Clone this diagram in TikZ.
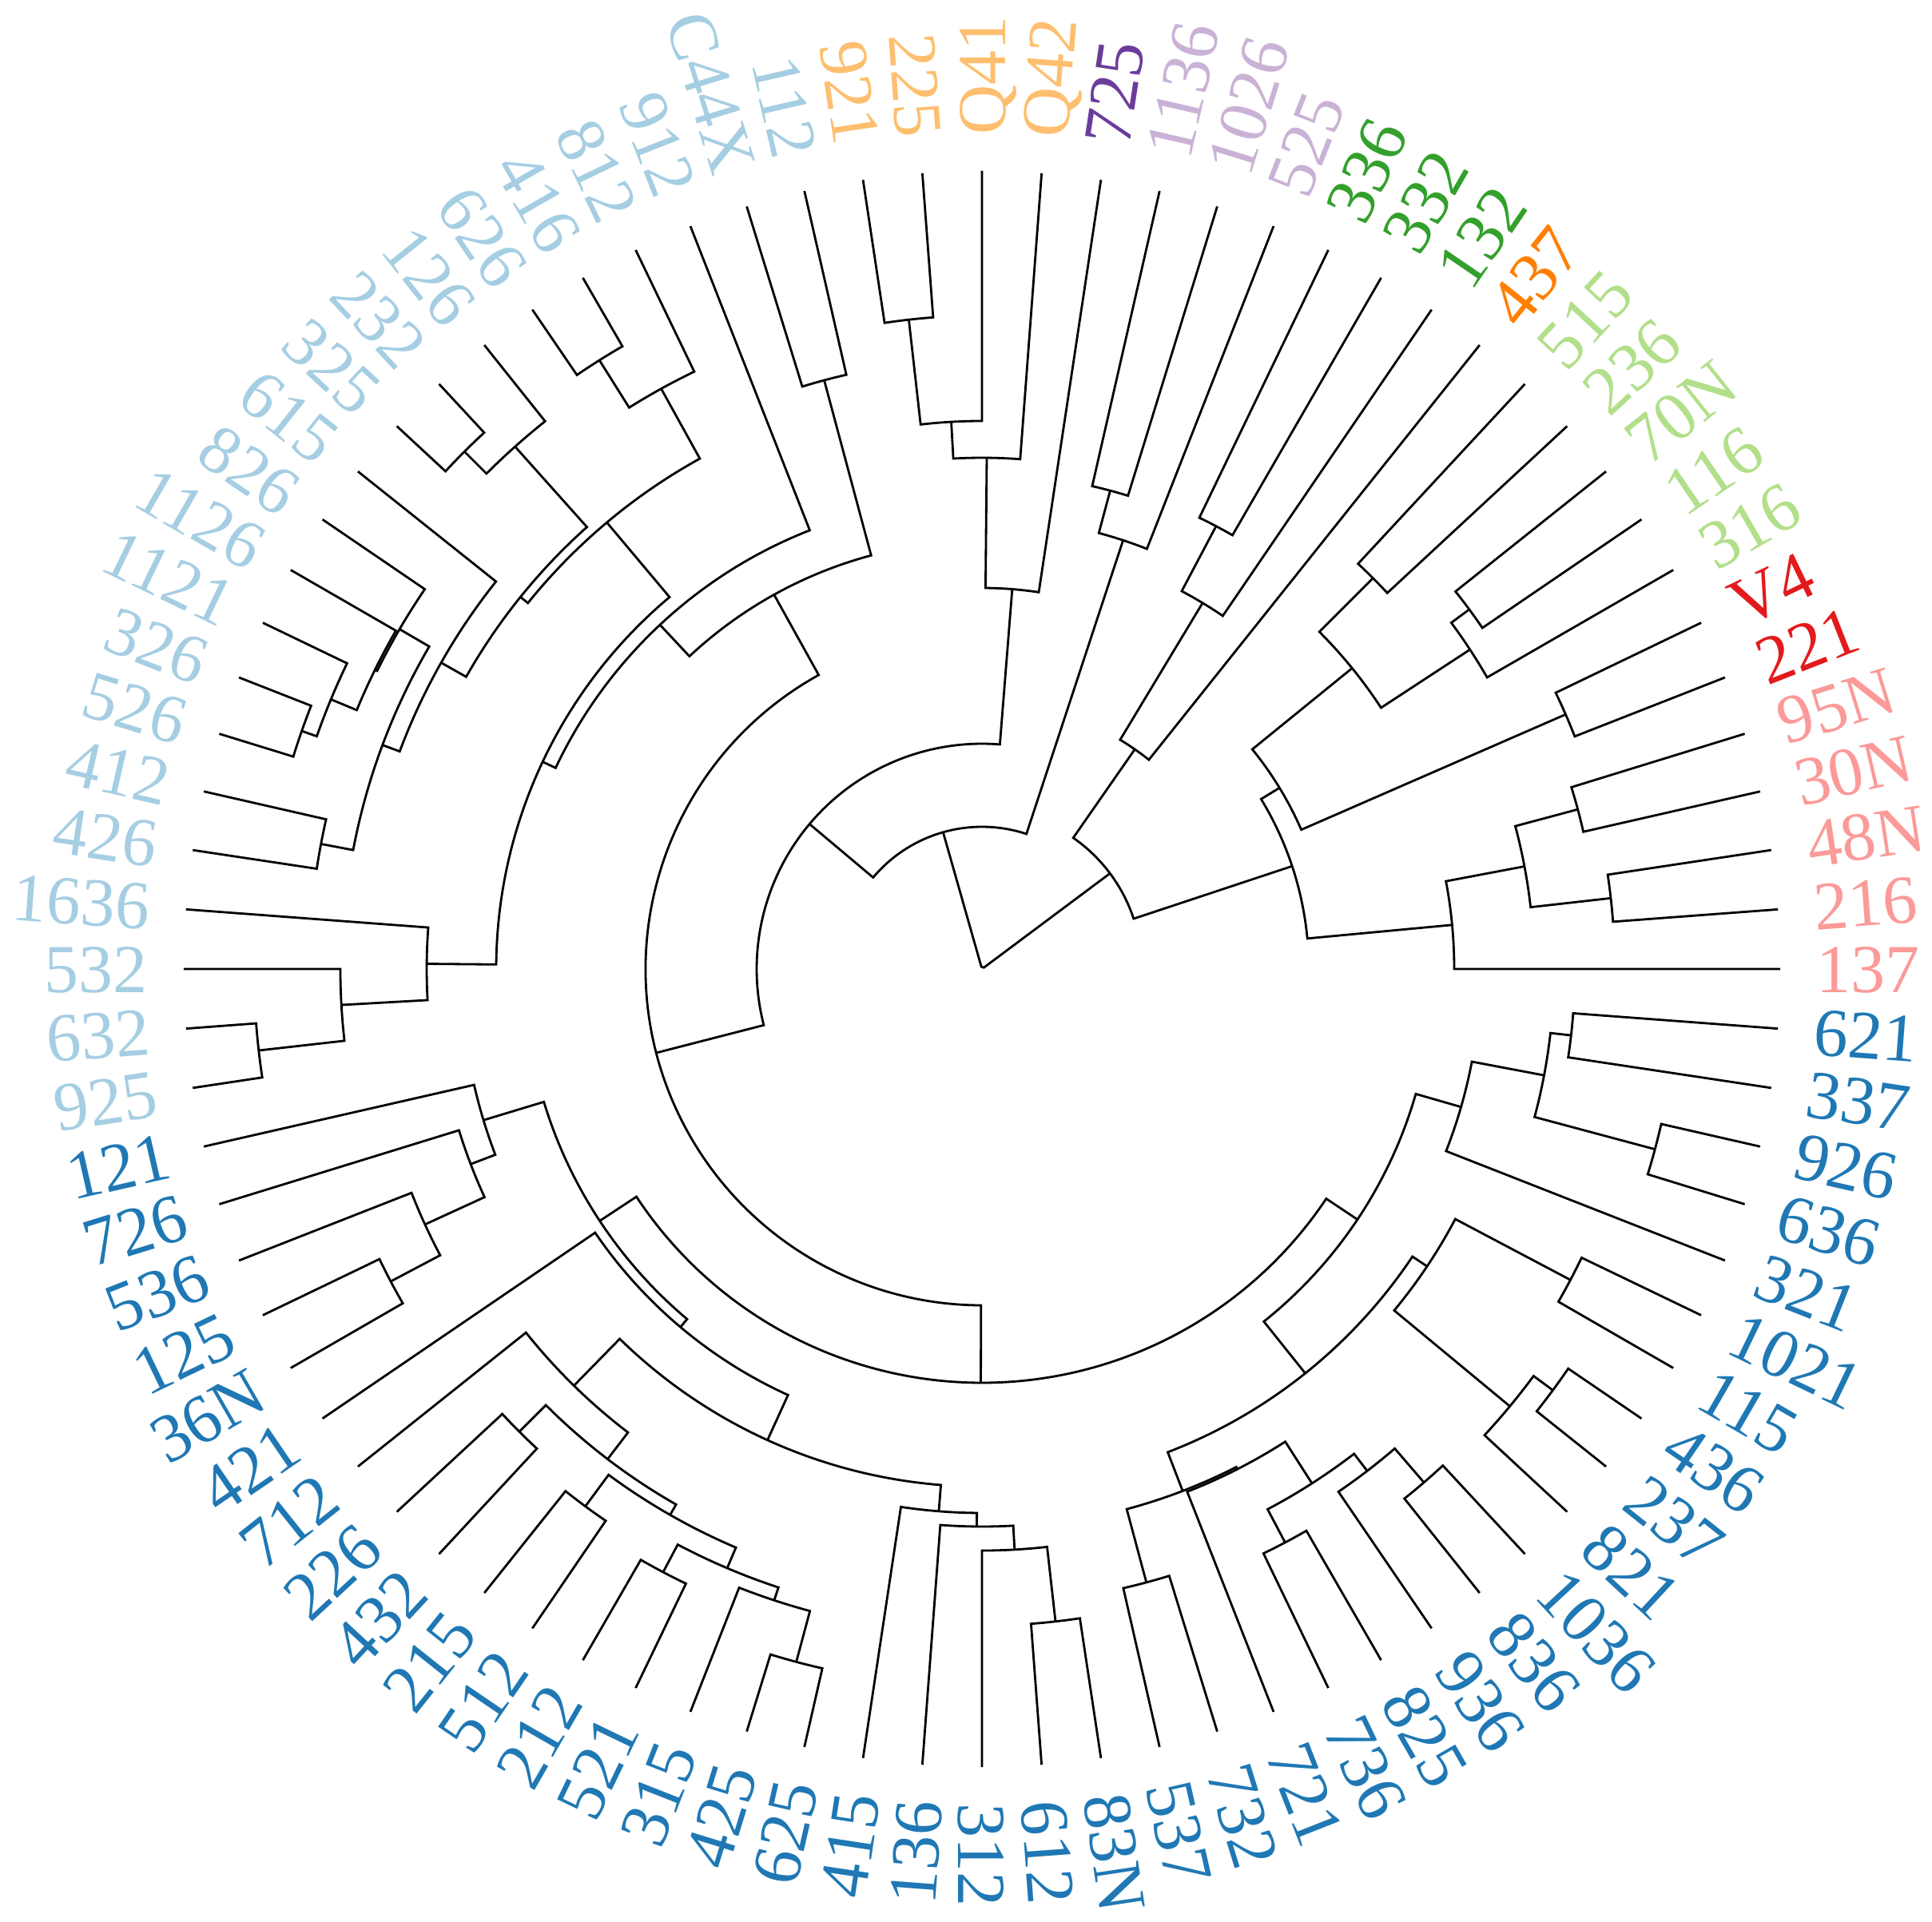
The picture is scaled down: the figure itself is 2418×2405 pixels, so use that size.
\documentclass[tikz,border=0pt]{standalone}
\usepackage{fontspec}
\setmainfont{Liberation Serif}
\usepackage{tikz}
\definecolor{pinkleaf}{RGB}{251, 154, 153}
\definecolor{redleaf}{RGB}{227, 26, 28}
\definecolor{lgreenleaf}{RGB}{178, 223, 138}
\definecolor{greenleaf}{RGB}{51, 160, 44}
\definecolor{orangeleaf}{RGB}{255, 127, 0}
\definecolor{lorangeleaf}{RGB}{253, 191, 111}
\definecolor{lpurpleleaf}{RGB}{202, 178, 214}
\definecolor{purpleleaf}{RGB}{106, 61, 154}
\definecolor{lblueleaf}{RGB}{166, 206, 227}
\definecolor{blueleaf}{RGB}{31, 120, 180}

\tikzset{
  branch/.style={draw=black, line width=0.8pt},
  leaftext/.style={font=\fontsize{24.5pt}{28pt}\selectfont, inner sep=0pt, text height=16.6pt, text depth=0pt}
}

% leaf: tip at radius 999, label turned along the radius
\newcommand{\leaf}[3]{%
  \pgfmathsetmacro{\leafang}{#2*30/7}%
  \expandafter\xdef\csname ang@s#1\endcsname{\leafang}%
  \coordinate (s#1) at (\leafang:999);
  \ifnum#2<22 \node[leaftext, text=#3, anchor=west, rotate=\leafang] (t#1) at (\leafang:1044) {#1};
  \else\ifnum#2>62 \node[leaftext, text=#3, anchor=west, rotate=\leafang] (t#1) at (\leafang:1044) {#1};
  \else\pgfmathsetmacro{\flipang}{\leafang-180}%
    \node[leaftext, text=#3, anchor=east, rotate=\flipang] (t#1) at (\leafang:1044) {#1};
  \fi\fi
}

% clade: name, radius, two children (arc between them, stems out to them)
\newcommand{\clade}[4]{%
  \edef\angA{\csname ang@#3\endcsname}%
  \edef\angB{\csname ang@#4\endcsname}%
  \pgfmathsetmacro{\angM}{(\angA+\angB)/2}%
  \expandafter\xdef\csname ang@#1\endcsname{\angM}%
  \draw[branch] (#3) -- (\angA:#2) arc[start angle=\angA, end angle=\angB, radius=#2] -- (#4);
  \coordinate (#1) at (\angM:#2);
}

\begin{document}
\begin{tikzpicture}[x=0.1mm, y=0.1mm]
  \useasboundingbox (-1229,-1192) rectangle (1189,1213);

  % Leaves, counter-clockwise from 137
  \foreach \lab/\col [count=\i from 0] in {
    137/pinkleaf, 216/pinkleaf, 48N/pinkleaf, 30N/pinkleaf, 95N/pinkleaf,
    221/redleaf, V4/redleaf,
    316/lgreenleaf, 116/lgreenleaf, 70N/lgreenleaf, 236/lgreenleaf, 515/lgreenleaf,
    437/orangeleaf,
    132/greenleaf, 332/greenleaf, 336/greenleaf,
    525/lpurpleleaf, 1026/lpurpleleaf, 1136/lpurpleleaf,
    725/purpleleaf,
    Q42/lorangeleaf, Q41/lorangeleaf, 225/lorangeleaf, 921/lorangeleaf,
    112/lblueleaf, C44X/lblueleaf, 912/lblueleaf, 812/lblueleaf, 416/lblueleaf,
    626/lblueleaf, 126/lblueleaf, 232/lblueleaf, 325/lblueleaf, 615/lblueleaf,
    826/lblueleaf, 1126/lblueleaf, 1121/lblueleaf, 326/lblueleaf, 526/lblueleaf,
    412/lblueleaf, 426/lblueleaf, 1636/lblueleaf, 532/lblueleaf, 632/lblueleaf,
    925/lblueleaf,
    121/blueleaf, 726/blueleaf, 536/blueleaf, 125/blueleaf, 36N/blueleaf,
    421/blueleaf, 712/blueleaf, 226/blueleaf, 432/blueleaf, 215/blueleaf,
    512/blueleaf, 212/blueleaf, 521/blueleaf, 315/blueleaf, 425/blueleaf,
    625/blueleaf, 415/blueleaf, 136/blueleaf, 312/blueleaf, 612/blueleaf,
    83N/blueleaf, 537/blueleaf, 732/blueleaf, 721/blueleaf, 736/blueleaf,
    825/blueleaf, 936/blueleaf, 836/blueleaf, 1036/blueleaf, 821/blueleaf,
    237/blueleaf, 436/blueleaf, 115/blueleaf, 1021/blueleaf, 321/blueleaf,
    636/blueleaf, 926/blueleaf, 337/blueleaf, 621/blueleaf}
    {\leaf{\lab}{\i}{\col}}

  % Right: pink, red, green groups
  \clade{a12}{792}{s216}{s48N}
  \clade{a34}{772}{s30N}{s95N}
  \clade{a14}{691}{a12}{a34}
  \clade{a04}{591}{s137}{a14}
  \clade{rv}{797}{s221}{sV4}
  \clade{g70}{758}{s116}{s70N}
  \clade{g316}{730}{s316}{g70}
  \clade{g515}{692}{s236}{s515}
  \clade{g2}{597}{g316}{g515}
  \clade{e}{436}{rv}{g2}
  \clade{b1}{409}{a04}{e}
  \clade{d}{627}{s332}{s336}
  \clade{c}{535}{s132}{d}
  \clade{b2}{335}{s437}{c}
  \clade{b}{200}{b1}{b2}

  % Top: purple and orange groups
  \clade{u1}{620}{s1026}{s1136}
  \clade{u2}{565}{s525}{u1}
  \clade{q1}{818}{s225}{s921}
  \clade{q2}{686}{sQ41}{q1}
  \clade{q3}{640}{sQ42}{q2}
  \clade{t1}{477}{s725}{q3}

  % Upper left: light blue group
  \clade{x112}{763}{s112}{sC44X}
  \clade{n416}{900}{s416}{s626}
  \clade{n830}{830}{s812}{n416}
  \clade{n232}{916}{s232}{s325}
  \clade{n877}{877}{s126}{n232}
  \clade{z326}{902}{s326}{s526}
  \clade{z1121}{882}{s1121}{z326}
  \clade{z1126}{847}{s1126}{z1121}
  \clade{z826}{844}{s826}{z1126}
  \clade{n412}{842}{s412}{s426}
  \clade{n800}{801}{z826}{n412}
  \clade{n776}{778}{s615}{n800}
  \clade{n741}{742}{n877}{n776}
  \clade{n732}{730}{n830}{n741}
  \clade{g632}{911}{s632}{s925}
  \clade{g532}{803}{s532}{g632}
  \clade{g1636}{695}{s1636}{g532}
  \clade{p}{608}{n732}{g1636}
  \clade{x2}{590}{s912}{p}
  \clade{x}{536}{x112}{x2}

  % Lower left: blue group
  \clade{k125}{837}{s125}{s36N}
  \clade{k536}{767}{s536}{k125}
  \clade{k726}{685}{s726}{k536}
  \clade{k121}{652}{s121}{k726}
  \clade{h226}{819}{s226}{s432}
  \clade{h215}{836}{s215}{s512}
  \clade{h212}{854}{s212}{s521}
  \clade{h425}{898}{s425}{s625}
  \clade{h315}{832}{s315}{h425}
  \clade{h812}{815}{h212}{h315}
  \clade{h787}{787}{h215}{h812}
  \clade{h770}{772}{h226}{h787}
  \clade{h730}{730}{s712}{h770}
  \clade{o612}{822}{s612}{s83N}
  \clade{o312}{728}{s312}{o612}
  \clade{o136}{698}{s136}{o312}
  \clade{o415}{681}{s415}{o136}
  \clade{h}{648}{h730}{o415}
  \clade{l2}{586}{s421}{h}
  \clade{l}{573}{k121}{l2}

  % Lower right: blue group
  \clade{m537}{795}{s537}{s732}
  \clade{m736}{812}{s736}{s825}
  \clade{m836}{848}{s836}{s1036}
  \clade{m936}{792}{s936}{m836}
  \clade{mq}{765}{m736}{m936}
  \clade{m2}{703}{s721}{mq}
  \clade{m1}{700}{m537}{m2}
  \clade{j237}{888}{s237}{s436}
  \clade{j821}{858}{s821}{j237}
  \clade{j1021}{833}{s115}{s1021}
  \clade{jj}{670}{j821}{j1021}
  \clade{y3}{648}{m1}{jj}
  \clade{r926}{872}{s636}{s926}
  \clade{r621}{742}{s337}{s621}
  \clade{r2}{716}{r926}{r621}
  \clade{r1}{624}{s321}{r2}
  \clade{y2}{565}{y3}{r1}

  % Inner joins down to the root
  \clade{y}{518}{l}{y2}
  \clade{v}{421}{x}{y}
  \clade{w}{282}{t1}{v}
  \clade{a}{178}{u2}{w}
  \clade{root}{3}{b}{a}
\end{tikzpicture}
\end{document}
